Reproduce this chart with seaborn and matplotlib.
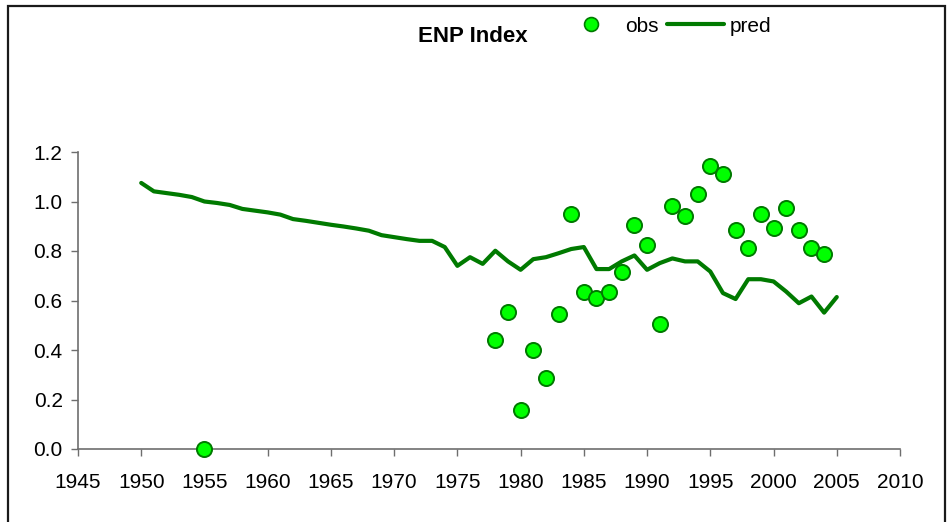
import matplotlib
matplotlib.use("Agg")
import matplotlib.pyplot as plt
from matplotlib.lines import Line2D
from matplotlib.patches import Rectangle
import pandas as pd
import seaborn as sns

# Predicted index, yearly 1950-2005
pred_years = list(range(1950, 2006))
pred_values = [1.075, 1.041, 1.034, 1.027, 1.018, 1.000, 0.994, 0.986, 0.970, 0.963,
               0.956, 0.947, 0.929, 0.922, 0.914, 0.906, 0.899, 0.891, 0.882, 0.864,
               0.856, 0.848, 0.841, 0.841, 0.816, 0.740, 0.775, 0.748, 0.801, 0.758,
               0.724, 0.767, 0.775, 0.791, 0.808, 0.816, 0.727, 0.727, 0.758, 0.782,
               0.724, 0.751, 0.770, 0.758, 0.758, 0.717, 0.630, 0.606, 0.686, 0.686,
               0.677, 0.636, 0.589, 0.616, 0.551, 0.614]

# Observed index
obs_years = [1955, 1978, 1979, 1980, 1981, 1982, 1983, 1984, 1985, 1986, 1987, 1988,
             1989, 1990, 1991, 1992, 1993, 1994, 1995, 1996, 1997, 1998, 1999, 2000,
             2001, 2002, 2003, 2004]
obs_values = [0.000, 0.441, 0.553, 0.158, 0.399, 0.287, 0.545, 0.948, 0.634, 0.610,
              0.634, 0.715, 0.907, 0.826, 0.505, 0.980, 0.940, 1.030, 1.142, 1.110,
              0.885, 0.812, 0.949, 0.893, 0.972, 0.885, 0.812, 0.788]

x_ticks = list(range(1945, 2011, 5))
y_ticks = [0.0, 0.2, 0.4, 0.6, 0.8, 1.0, 1.2]

pred_df = pd.DataFrame({"year": pred_years, "value": pred_values})
obs_df = pd.DataFrame({"year": obs_years, "value": obs_values})

sns.set_style("white")
plt.rcParams["font.family"] = ["Liberation Sans", "DejaVu Sans"]
plt.rcParams["text.color"] = "black"
plt.rcParams["xtick.color"] = "black"
plt.rcParams["ytick.color"] = "black"

fig = plt.figure(figsize=(9.51, 5.22), dpi=100)
ax = fig.add_axes([78 / 951, 1 - 449 / 522, (900 - 78) / 951, (449 - 152) / 522])

line_color = "#007A00"
sns.lineplot(data=pred_df, x="year", y="value", ax=ax, color=line_color,
             linewidth=3.0, zorder=2)
sns.scatterplot(data=obs_df, x="year", y="value", ax=ax, color="#00FF00",
                edgecolor="#007A00", linewidth=1.4, s=118, zorder=3, clip_on=False)

ax.set_xlim(1945, 2010)
ax.set_ylim(0, 1.2)
ax.set_xticks(x_ticks)
ax.set_yticks(y_ticks)
ax.set_yticklabels([f"{v:.1f}" for v in y_ticks])
ax.set_xlabel("")
ax.set_ylabel("")

for side in ("top", "right"):
    ax.spines[side].set_visible(False)
for side in ("left", "bottom"):
    ax.spines[side].set_color("#6E6E6E")
    ax.spines[side].set_linewidth(1.2)

ax.tick_params(axis="y", direction="out", length=5, width=1, color="#6E6E6E",
               labelcolor="black", labelsize=15, pad=6, left=True)
ax.tick_params(axis="x", direction="in", length=5, width=1, color="#6E6E6E",
               labelcolor="black", labelsize=15, pad=17, bottom=True)
# x ticks hang below the axis line
for t in ax.xaxis.get_major_ticks():
    t.tick1line.set_marker(3)
    t.tick1line.set_markersize(5)

fig.text(473 / 951, 1 - 37 / 522, "ENP Index", ha="center", va="center",
         fontsize=16, fontweight="bold", color="black")

handles = [
    Line2D([], [], linestyle="none", marker="o", markersize=10,
           markerfacecolor="#00FF00", markeredgecolor="#007A00", markeredgewidth=1.2),
    Line2D([], [], color=line_color, linewidth=3.0),
]
fig.legend(handles, ["obs", "pred"], loc="center", bbox_to_anchor=(667 / 951, 1 - 26 / 522),
           ncol=2, frameon=False, fontsize=15, handlelength=2.75, handletextpad=0.25,
           columnspacing=0.4, borderpad=0, borderaxespad=0)

fig.patches.append(Rectangle((8 / 951, -0.05), (945 - 8) / 951, 1 - 6 / 522 + 0.05,
                             transform=fig.transFigure, fill=False, edgecolor="#1A1A1A",
                             linewidth=1.6, zorder=10))

fig.savefig("out.png", dpi=100)
